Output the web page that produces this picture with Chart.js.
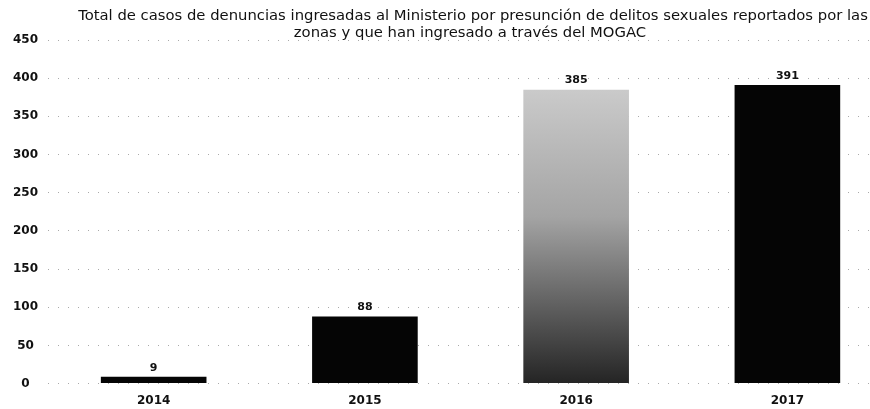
<!DOCTYPE html>
<html>
<head>
<meta charset="utf-8">
<script src="https://cdn.jsdelivr.net/npm/chart.js@4"></script>
<style>
  html, body { margin: 0; padding: 0; background: #fff; overflow: hidden; }
  /* the scan cuts the plot off on the right, so the canvas runs past the window */
  #wrap { width: 893px; height: 410px; }
</style>
</head>
<body>
<div id="wrap"><canvas id="casos"></canvas></div>
<script>
const years = ['2014', '2015', '2016', '2017']
const casos = [9, 88, 385, 391]
const yTicks = [0, 50, 100, 150, 200, 250, 300, 350, 400, 450]
const titleLines = [
    'Total de casos de denuncias ingresadas al Ministerio por presunción de delitos sexuales reportados por las',
    'zonas y que han ingresado a través del MOGAC'
]

// gray gradient for the 2016 bar, solid black for the rest
const barColor = ctx => {
    if (ctx.dataIndex !== 2) return '#050505'
    const area = ctx.chart.chartArea
    if (!area) return '#777'
    const g = ctx.chart.ctx.createLinearGradient(0, area.top + 40, 0, area.bottom)
    g.addColorStop(0, '#cdcdcd')
    g.addColorStop(0.45, '#a4a4a4')
    g.addColorStop(1, '#242424')
    return g
}

const labelsAndTitle = {
    id: 'labelsAndTitle',
    afterDatasetsDraw(chart) {
        const ctx = chart.ctx
        ctx.save()
        ctx.fillStyle = '#111'
        ctx.textAlign = 'center'
        ctx.textBaseline = 'middle'
        // fit the first title line to the width it has in the scan
        ctx.font = '10px "DejaVu Sans"'
        const size = 10 * 790 / ctx.measureText(titleLines[0]).width
        ctx.font = size.toFixed(2) + 'px "DejaVu Sans"'
        ctx.fillText(titleLines[0], 473, 16)
        ctx.fillText(titleLines[1], 470, 33)
        ctx.font = 'bold 11px "DejaVu Sans"'
        chart.getDatasetMeta(0).data.forEach((bar, i) => {
            ctx.fillText(casos[i], bar.x, bar.y - 9)
        })
        ctx.restore()
    }
}

const createChart = () => {
    const ctx = document.querySelector('#casos')
    new Chart(ctx, {
        type: 'bar',
        data: {
            labels: years,
            datasets: [{
                data: casos,
                backgroundColor: barColor,
                barPercentage: 0.5,
                categoryPercentage: 1
            }]
        },
        options: {
            responsive: true,
            maintainAspectRatio: false,
            animation: false,
            layout: { padding: { top: 40, right: 0, left: 3, bottom: 0 } },
            plugins: { legend: { display: false }, tooltip: { enabled: false } },
            scales: {
                x: {
                    grid: { display: false },
                    border: { display: false },
                    ticks: { padding: 2, color: '#111', font: { family: 'DejaVu Sans', size: 12, weight: 'bold' } }
                },
                y: {
                    min: 0,
                    max: 450,
                    afterBuildTicks: axis => { axis.ticks = yTicks.map(v => ({ value: v })) },
                    grid: { color: '#aaa', lineWidth: 1, tickLength: 0 },
                    border: { display: false, dash: [1, 9] },
                    ticks: {
                        padding: 10,
                        crossAlign: 'center',
                        color: '#111',
                        font: { family: 'DejaVu Sans', size: 12, weight: 'bold' }
                    }
                }
            }
        },
        plugins: [labelsAndTitle]
    })
}

createChart()
</script>
</body>
</html>
